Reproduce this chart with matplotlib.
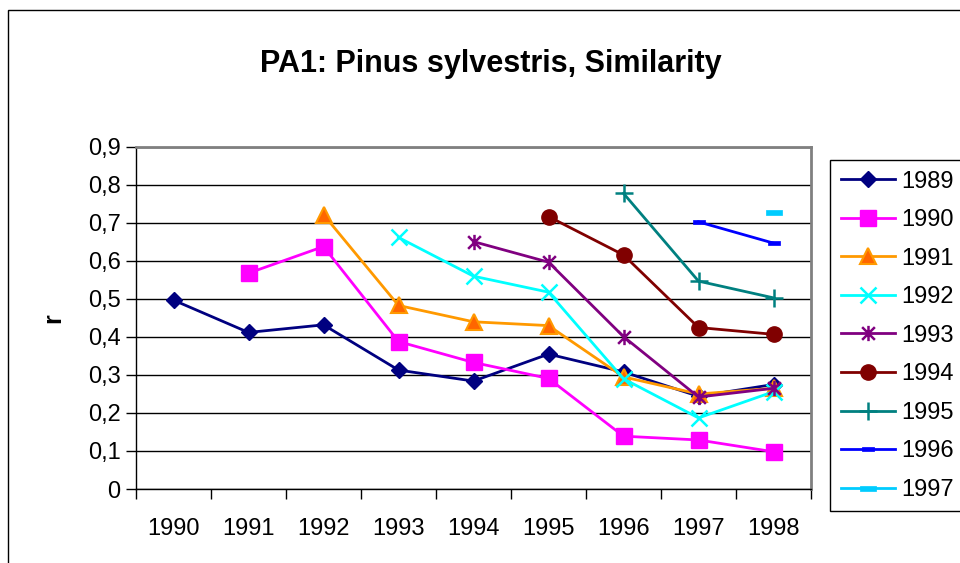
import numpy as np
import matplotlib
matplotlib.use("Agg")
import matplotlib.pyplot as plt
from matplotlib.path import Path
from matplotlib.patches import Rectangle

plt.rcParams["font.family"] = ["Liberation Sans", "DejaVu Sans"]

years = ["1990", "1991", "1992", "1993", "1994", "1995", "1996", "1997", "1998"]
nan = np.nan

s1989 = [0.497, 0.412, 0.432, 0.313, 0.284, 0.355, 0.308, 0.244, 0.275]
s1990 = [nan, 0.568, 0.638, 0.388, 0.333, 0.291, 0.139, 0.129, 0.098]
s1991 = [nan, nan, 0.722, 0.483, 0.440, 0.430, 0.295, 0.250, 0.265]
s1992 = [nan, nan, nan, 0.662, 0.560, 0.518, 0.290, 0.187, 0.256]
s1993 = [nan, nan, nan, nan, 0.651, 0.597, 0.401, 0.242, 0.265]
s1994 = [nan, nan, nan, nan, nan, 0.717, 0.616, 0.425, 0.407]
s1995 = [nan, nan, nan, nan, nan, nan, 0.778, 0.547, 0.503]
s1996 = [nan, nan, nan, nan, nan, nan, nan, 0.703, 0.647]
s1997 = [nan, nan, nan, nan, nan, nan, nan, nan, 0.730]

series_names = ["1989", "1990", "1991", "1992", "1993", "1994", "1995", "1996", "1997"]
series = [s1989, s1990, s1991, s1992, s1993, s1994, s1995, s1996, s1997]

# excel-like star marker: x with vertical line
star = Path([(-1, -1), (1, 1), (-1, 1), (1, -1), (0, -1.2), (0, 1.2)],
            [Path.MOVETO, Path.LINETO, Path.MOVETO, Path.LINETO, Path.MOVETO, Path.LINETO])
dash = Path([(-1, -0.3), (1, -0.3), (1, 0.3), (-1, 0.3), (-1, -0.3)],
            [Path.MOVETO, Path.LINETO, Path.LINETO, Path.LINETO, Path.CLOSEPOLY])

styles = [
    dict(color="#000080", marker="D", ms=8, mfc="#000080", mec="#000080", mew=1),
    dict(color="#FF00FF", marker="s", ms=11, mfc="#FF00FF", mec="#FF00FF", mew=1),
    dict(color="#FF9900", marker="^", ms=12, mfc="#FF6600", mec="#FF9900", mew=1.5),
    dict(color="#00FFFF", marker="x", ms=11, mfc="none", mec="#00FFFF", mew=1.8),
    dict(color="#800080", marker=star, ms=11, mfc="none", mec="#800080", mew=1.8),
    dict(color="#800000", marker="o", ms=11, mfc="#800000", mec="#800000", mew=1),
    dict(color="#008080", marker="+", ms=13, mfc="none", mec="#008080", mew=1.8),
    dict(color="#0000FF", marker=dash, ms=8, mfc="#0000FF", mec="#0000FF", mew=0.5),
    dict(color="#00CCFF", marker=dash, ms=12, mfc="#00CCFF", mec="#00CCFF", mew=0.5),
]

fig = plt.figure(figsize=(9.6, 5.63), dpi=100)
fig.patches.append(Rectangle((8 / 960, -0.1), 1.2, 1.1 - 10 / 563,
                             transform=fig.transFigure, fill=False,
                             edgecolor="#000000", linewidth=1))

ax = fig.add_axes([136 / 960, 1 - 489 / 563, (811 - 136) / 960, (489 - 147) / 563])

x = np.arange(len(years))
handles = []
for name, vals, st in zip(series_names, series, styles):
    h, = ax.plot(x, vals, color=st["color"], linewidth=2, marker=st["marker"],
                 markersize=st["ms"], markerfacecolor=st["mfc"],
                 markeredgecolor=st["mec"], markeredgewidth=st["mew"], label=name,
                 clip_on=False, zorder=3)
    handles.append(h)

ax.set_xlim(-0.5, len(years) - 0.5)
ax.set_ylim(0, 0.9)
ax.set_yticks(np.arange(0, 0.91, 0.1))
ax.set_yticklabels(["0"] + ["0,%d" % i for i in range(1, 10)])
ax.set_xticks(x)
ax.set_xticklabels(years)
ax.set_xticks(np.arange(-0.5, len(years), 1), minor=True)
ax.tick_params(axis="x", which="major", length=0, pad=21, labelsize=17)
ax.tick_params(axis="x", which="minor", length=7, width=1, direction="out")
ax.tick_params(axis="y", length=7, width=1, direction="out", pad=4, labelsize=17)

ax.yaxis.grid(True, color="#000000", linewidth=1)
ax.set_axisbelow(True)
for side in ["top", "right"]:
    ax.spines[side].set_color("#808080")
    ax.spines[side].set_linewidth(2)
for side in ["left", "bottom"]:
    ax.spines[side].set_color("#000000")
    ax.spines[side].set_linewidth(1)

ax.set_ylabel("r", fontsize=18, fontweight="bold", labelpad=16)
fig.text(491 / 960, 1 - 64 / 563, "PA1: Pinus sylvestris, Similarity",
         ha="center", va="center", fontsize=22, fontweight="bold")

leg = fig.legend(handles=handles, loc="upper left",
                 bbox_to_anchor=(830 / 960, 1 - 160 / 563), fontsize=17,
                 frameon=True, fancybox=False, framealpha=1, edgecolor="#000000",
                 handlelength=2.3, labelspacing=0.70, borderpad=0.45,
                 handletextpad=0.25, borderaxespad=0)
leg.get_frame().set_linewidth(1)

plt.savefig("out.png", dpi=100)
